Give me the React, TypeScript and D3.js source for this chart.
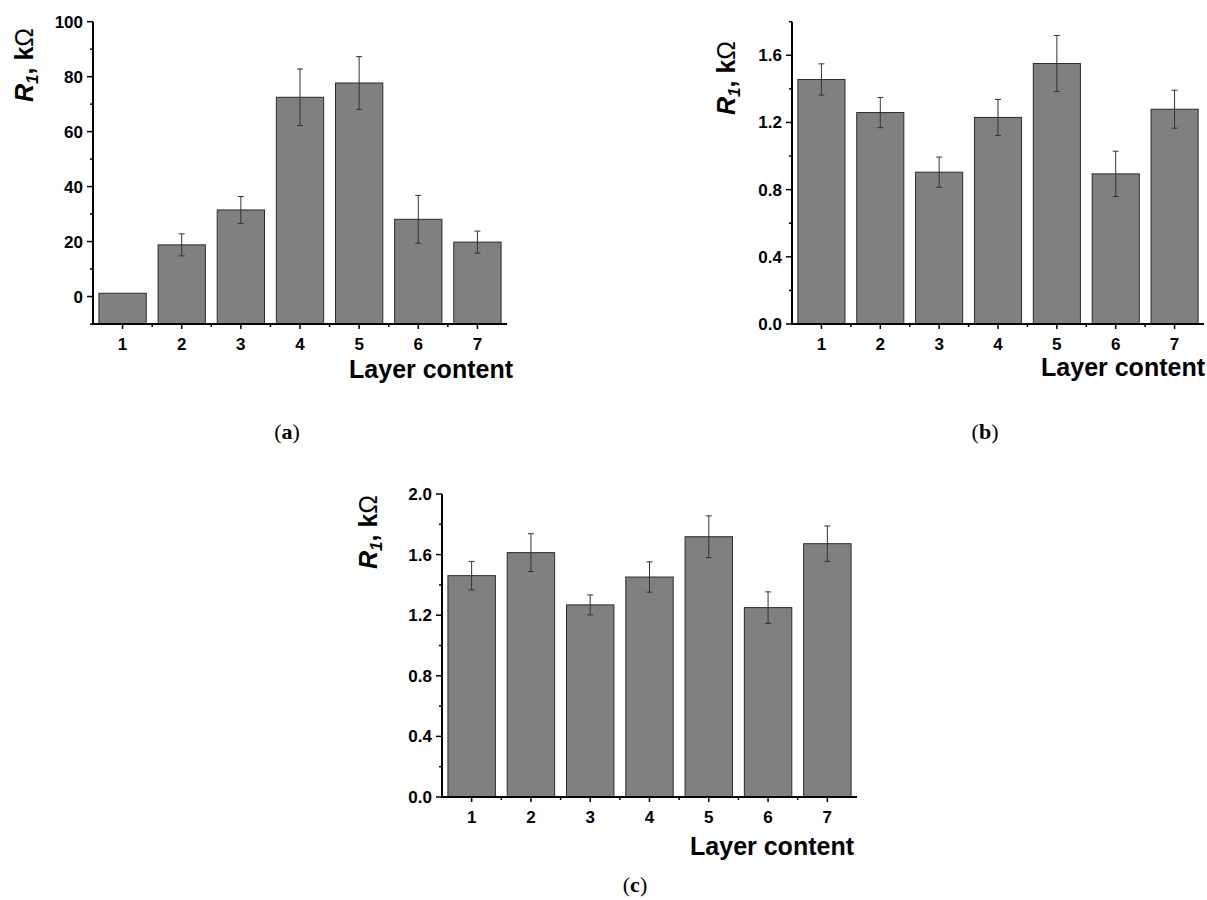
import React from "react";
import * as d3 from "d3";

// layer content categories, shared by the three panels
const categories = [1, 2, 3, 4, 5, 6, 7];

// (a)
const valuesA = [1.2, 18.8, 31.5, 72.5, 77.7, 28.1, 19.8];
const errorsA = [0, 4.0, 4.9, 10.3, 9.6, 8.7, 4.0];
const ticksA = [0, 20, 40, 60, 80, 100];
const minorA = [-10, 10, 30, 50, 70, 90];

// (b)
const valuesB = [1.456, 1.259, 0.904, 1.23, 1.551, 0.894, 1.279];
const errorsB = [0.093, 0.09, 0.09, 0.107, 0.167, 0.135, 0.113];
const ticksB = [0, 0.4, 0.8, 1.2, 1.6];
const minorB = [0.2, 0.6, 1.0, 1.4, 1.8];

// (c)
const valuesC = [1.461, 1.613, 1.268, 1.452, 1.718, 1.25, 1.672];
const errorsC = [0.094, 0.125, 0.066, 0.1, 0.138, 0.104, 0.117];
const ticksC = [0, 0.4, 0.8, 1.2, 1.6, 2.0];
const minorC = [0.2, 0.6, 1.0, 1.4, 1.8];

const FONT = "Arial, 'Liberation Sans', Helvetica, sans-serif";

type PanelProps = {
  left: number;
  right: number;
  top: number;
  bottom: number;
  domain: [number, number];
  values: number[];
  errors: number[];
  ticks: number[];
  minor: number[];
  fmt: (v: number) => string;
  labelX: number;
  labelY: number;
  titleRight: number;
  titleY: number;
};

const Panel = ({ left, right, top, bottom, domain, values, errors, ticks, minor, fmt, labelX, labelY, titleRight, titleY }: PanelProps) => {
  const x = d3.scaleLinear().domain([0.5, 7.5]).range([left, right]);
  const y = d3.scaleLinear().domain(domain).range([bottom, top]);
  const bw = x(1.8) - x(1); // bar width = 0.8 units
  const halves = d3.range(1.5, 7.5, 1);

  return (
    <g>
      {/* bars */}
      {categories.map((c, i) => (
        <rect
          key={"b" + c}
          x={x(c) - bw / 2}
          y={y(values[i])}
          width={bw}
          height={y(domain[0]) - y(values[i])}
          fill="#808080"
          stroke="#2b2b2b"
          strokeWidth={1}
        />
      ))}
      {/* error bars */}
      {categories.map((c, i) =>
        errors[i] > 0 ? (
          <g key={"e" + c} stroke="#333" strokeWidth={1}>
            <line x1={x(c)} x2={x(c)} y1={y(values[i] + errors[i])} y2={y(values[i] - errors[i])} />
            <line x1={x(c) - 3} x2={x(c) + 3} y1={y(values[i] + errors[i])} y2={y(values[i] + errors[i])} />
            <line x1={x(c) - 3} x2={x(c) + 3} y1={y(values[i] - errors[i])} y2={y(values[i] - errors[i])} />
          </g>
        ) : null
      )}
      {/* y axis */}
      <line x1={left} x2={left} y1={top} y2={bottom + 1} stroke="#000" strokeWidth={2} />
      {ticks.map((t) => (
        <g key={"yt" + t}>
          <line x1={left - 6} x2={left} y1={y(t)} y2={y(t)} stroke="#000" strokeWidth={1.5} />
          <text x={left - 10} y={y(t) + 6} textAnchor="end" fontFamily={FONT} fontWeight="bold" fontSize={17}>
            {fmt(t)}
          </text>
        </g>
      ))}
      {minor.map((t) => (
        <line key={"ym" + t} x1={left - 3} x2={left} y1={y(t)} y2={y(t)} stroke="#000" strokeWidth={1.5} />
      ))}
      {/* x axis */}
      <line x1={left - 1} x2={right} y1={bottom} y2={bottom} stroke="#000" strokeWidth={2} />
      {categories.map((c) => (
        <g key={"xt" + c}>
          <line x1={x(c)} x2={x(c)} y1={bottom} y2={bottom + 5} stroke="#000" strokeWidth={1.5} />
          <text x={x(c)} y={bottom + 26} textAnchor="middle" fontFamily={FONT} fontWeight="bold" fontSize={17}>
            {c}
          </text>
        </g>
      ))}
      {halves.map((h) => (
        <line key={"xm" + h} x1={x(h)} x2={x(h)} y1={bottom} y2={bottom + 3} stroke="#000" strokeWidth={1.5} />
      ))}
      <text x={titleRight} y={titleY} textAnchor="end" fontFamily={FONT} fontWeight="bold" fontSize={25}>
        Layer content
      </text>
      {/* y label */}
      <text
        transform={`translate(${labelX},${labelY}) rotate(-90)`}
        textAnchor="middle"
        fontFamily={FONT}
        fontWeight="bold"
        fontSize={25}
      >
        <tspan fontStyle="italic">R</tspan>
        <tspan fontStyle="italic" fontSize={17} dy={5}>1</tspan>
        <tspan dy={-5}>, k</tspan>
        <tspan fontWeight="normal">Ω</tspan>
      </text>
    </g>
  );
};

const Caption = ({ x, y, letter }: { x: number; y: number; letter: string }) => (
  <text x={x} y={y} textAnchor="middle" fontFamily="'Liberation Serif', 'DejaVu Serif', serif" fontSize={22}>
    (<tspan fontWeight="bold">{letter}</tspan>)
  </text>
);

export default function App() {
  const f0 = d3.format("d");
  const f1 = d3.format(".1f");
  return (
    <svg width={1207} height={900} style={{ position: "absolute", left: 0, top: 0, background: "#fff" }}>
      <Panel left={93} right={507} top={21.7} bottom={324} domain={[-10, 100]} values={valuesA} errors={errorsA}
        ticks={ticksA} minor={minorA} fmt={f0} labelX={33} labelY={65} titleRight={513} titleY={378} />
      <Panel left={792} right={1204} top={21.7} bottom={324} domain={[0, 1.8]} values={valuesB} errors={errorsB}
        ticks={ticksB} minor={minorB} fmt={f1} labelX={735} labelY={78} titleRight={1205} titleY={376} />
      <Panel left={442} right={857} top={494} bottom={797} domain={[0, 2.0]} values={valuesC} errors={errorsC}
        ticks={ticksC} minor={minorC} fmt={f1} labelX={377} labelY={532} titleRight={854} titleY={855} />
      <Caption x={287} y={439} letter="a" />
      <Caption x={985} y={439} letter="b" />
      <Caption x={635} y={892} letter="c" />
    </svg>
  );
}
